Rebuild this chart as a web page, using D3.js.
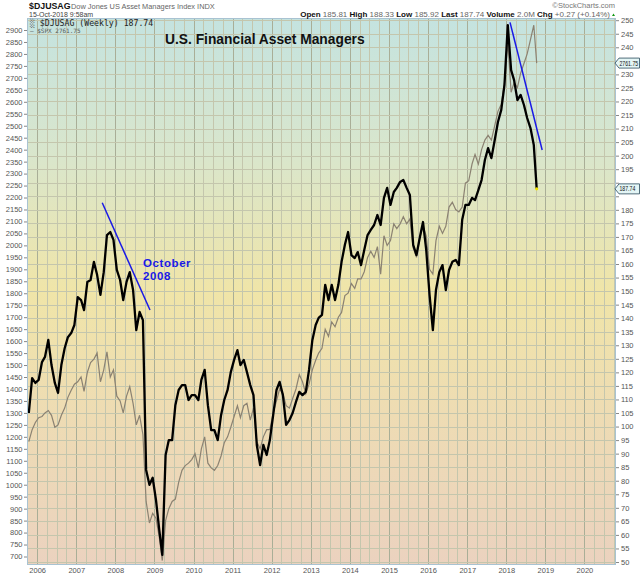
<!DOCTYPE html>
<html>
<head>
<meta charset="utf-8">
<script src="https://cdn.jsdelivr.net/npm/d3@7"></script>
<style>
  body { margin: 0; background: #ffffff; }
  svg { display: block; font-family: "Liberation Sans", Arial, sans-serif; }
</style>
</head>
<body>
<svg id="chart" width="640" height="576"></svg>
<script>
// ---------------- DATA ----------------
const startMonth = "2005-10";           // first monthly observation
const endLabelDate = "2018-10-12";      // last observation date
// $DJUSAG (right axis), monthly estimates read from the chart
const djusag = [
  105.0, 117.9, 116.1,
  117.2, 123.8, 125.7, 132.0, 122.7, 116.1, 112.4, 122.7, 128.9, 133.0, 134.5, 137.5,
  147.8, 146.7, 143.0, 153.4, 154.1, 160.8, 156.0, 148.6, 157.0, 170.7, 171.8, 168.9,
  157.8, 154.1, 146.7, 153.4, 157.0, 150.4, 135.6, 142.3, 139.3, 84.0, 78.5, 81.1,
  72.9, 61.8, 52.6, 89.5, 95.0, 95.0, 107.9, 113.5, 115.3, 115.3, 109.8, 111.6,
  111.6, 109.8, 117.2, 120.9, 107.9, 98.7, 98.7, 95.0, 104.2, 109.8, 113.5, 120.1,
  124.6, 128.2, 122.7, 124.6, 120.1, 115.3, 111.6, 93.2, 85.8, 93.2, 89.5, 95.0,
  104.2, 113.5, 116.5, 111.6, 100.6, 102.4, 105.0, 109.1, 112.8, 111.6, 112.8, 120.9,
  131.9, 137.5, 140.1, 141.2, 152.3, 146.7, 152.3, 146.7, 152.3, 160.8, 167.1, 171.8,
  163.3, 162.2, 164.4, 159.6, 165.2, 170.7, 172.6, 174.4, 178.1, 174.4, 184.4, 188.1,
  181.8, 186.6, 188.1, 190.3, 191.0, 188.1, 185.5, 167.1, 163.3, 169.6, 175.5, 165.2,
  148.6, 135.6, 150.4, 157.0, 159.6, 150.4, 157.8, 160.8, 161.5, 159.6, 176.3, 181.8,
  181.8, 184.4, 183.6, 187.3, 191.0, 198.4, 202.8, 199.1, 205.8, 212.4, 216.9, 226.1,
  248.2, 231.6, 227.9, 220.5, 222.4, 218.7, 213.9, 210.2, 203.9, 187.74
];
// $SPX overlay (left axis), monthly estimates
const spx = [
  1180, 1230, 1260,
  1280, 1285, 1300, 1310, 1290, 1240, 1250, 1290, 1320, 1365, 1395, 1420,
  1430, 1450, 1390, 1470, 1510, 1525, 1550, 1430, 1480, 1555, 1450, 1480,
  1370, 1350, 1300, 1370, 1410, 1340, 1250, 1290, 1210, 930, 840, 880,
  860, 780, 683, 850, 900, 930, 940, 1010, 1060, 1080, 1090, 1105,
  1130, 1070, 1150, 1200, 1090, 1070, 1060, 1080, 1120, 1175, 1200, 1240,
  1285, 1330, 1280, 1330, 1340, 1270, 1320, 1180, 1150, 1200, 1230, 1230,
  1300, 1350, 1400, 1380, 1330, 1320, 1360, 1400, 1460, 1430, 1380, 1420,
  1480, 1520, 1550, 1570, 1650, 1620, 1680, 1660, 1700, 1720, 1790, 1800,
  1840, 1820, 1860, 1860, 1890, 1950, 1975, 1950, 1995, 1880, 2040, 2000,
  2020, 2090, 2070, 2090, 2120, 2090, 2110, 1990, 1950, 2030, 2080, 2040,
  1900, 1880, 2020, 2080, 2050, 2080, 2160, 2180, 2150, 2140, 2160, 2260,
  2270, 2340, 2380, 2340, 2400, 2440, 2460, 2440, 2500, 2560, 2590, 2680,
  2850, 2640, 2680, 2660, 2720, 2760, 2800, 2860, 2920, 2761.75
];
const rightTicks = d3.range(50, 251, 5);
const leftTicks = d3.range(700, 2901, 50);
const yearTicks = d3.range(2006, 2021);
const trendLines = [
  [["2007-09-01", 182.6], ["2008-11-20", 143.0]],
  [["2018-02-05", 249.2], ["2018-12-02", 202.1]]
];
const annotation = { date: "2008-09-15", value: 159.0, lines: ["October", "2008"] };
const header = {
  symbol: "$DJUSAG", name: "Dow Jones US Asset Managers Index  INDX",
  stamp: "15-Oct-2018 9:58am",
  quote: [["Open", "185.81"], ["High", "188.33"], ["Low", "185.92"], ["Last", "187.74"],
          ["Volume", "2.0M"], ["Chg", "+0.27 (+0.14%)"]],
  title: "U.S. Financial Asset Managers"
};

// ---------------- SCALES ----------------
const parse = d3.timeParse("%Y-%m-%d");
const start = d3.timeParse("%Y-%m")(startMonth);
const dates = djusag.map((_, i) => {
  if (i === djusag.length - 1) return parse(endLabelDate);
  const d = d3.timeMonth.offset(start, i); d.setDate(15); return d;
});
const L = 27, R = 616, T = 18, B = 565;
const x = d3.scaleTime().domain([new Date(2005, 8, 28), new Date(2020, 9, 22)]).range([L, R]);
const yR = d3.scaleLinear().domain([50, 250]).range([562, 20.2]);
const yL = d3.scaleLinear().domain([700, 2900]).range([556.5, 30]);

const svg = d3.select("#chart");
const defs = svg.append("defs");
const grad = defs.append("linearGradient").attr("id", "bg").attr("x1", 0).attr("y1", 0).attr("x2", 0).attr("y2", 1);
[["0%", "#c4e3e0"], ["25%", "#d9e6cc"], ["50%", "#f0e5a8"], ["72%", "#eedcb3"], ["100%", "#ebd2bf"]]
  .forEach(([o, c]) => grad.append("stop").attr("offset", o).attr("stop-color", c));
defs.append("clipPath").attr("id", "clip").append("rect").attr("x", L).attr("y", T).attr("width", R - L).attr("height", B - T);

svg.append("rect").attr("x", L).attr("y", T).attr("width", R - L).attr("height", B - T).attr("fill", "url(#bg)");

// grid
const grid = svg.append("g").attr("clip-path", "url(#clip)");
const quarters = d3.timeMonth.every(3).range(new Date(2005, 9, 1), new Date(2020, 11, 1));
grid.selectAll("line.v").data(quarters).join("line")
  .attr("x1", d => Math.round(x(d)) + 0.5).attr("x2", d => Math.round(x(d)) + 0.5)
  .attr("y1", T).attr("y2", B)
  .attr("stroke", d => d.getMonth() === 0 ? "#a9ae97" : "#c4c6ad")
  .attr("stroke-width", 1);
grid.selectAll("line.h").data(rightTicks).join("line")
  .attr("x1", L).attr("x2", R)
  .attr("y1", d => Math.round(yR(d)) + 0.5).attr("y2", d => Math.round(yR(d)) + 0.5)
  .attr("stroke", "#c4c6ad").attr("stroke-width", 1);

// series
const plot = svg.append("g").attr("clip-path", "url(#clip)");
plot.append("path").datum(spx)
  .attr("fill", "none").attr("stroke", "#8b8272").attr("stroke-width", 1.2)
  .attr("d", d3.line().x((d, i) => x(dates[i])).y(d => yL(d)));
plot.append("path").datum(djusag)
  .attr("fill", "none").attr("stroke", "#000").attr("stroke-width", 2.3).attr("stroke-linejoin", "round")
  .attr("d", d3.line().x((d, i) => x(dates[i])).y(d => yR(d)));
plot.append("circle").attr("cx", x(dates[dates.length - 1])).attr("cy", yR(djusag[djusag.length - 1]))
  .attr("r", 1.6).attr("fill", "#f2e400");

// trend lines
plot.selectAll("line.trend").data(trendLines).join("line")
  .attr("x1", d => x(parse(d[0][0]))).attr("y1", d => yR(d[0][1]))
  .attr("x2", d => x(parse(d[1][0]))).attr("y2", d => yR(d[1][1]))
  .attr("stroke", "#1a1ae6").attr("stroke-width", 1.5);

// annotation
const ann = svg.append("text").attr("x", x(parse(annotation.date))).attr("y", yR(annotation.value))
  .attr("fill", "#1a1ae6").attr("font-weight", "bold").attr("font-size", 11.5).attr("letter-spacing", 0.6);
annotation.lines.forEach((t, i) => ann.append("tspan").attr("x", x(parse(annotation.date))).attr("dy", i ? 13.5 : 0).text(t));

// frame
svg.append("rect").attr("x", L + 0.5).attr("y", T + 0.5).attr("width", R - L - 1).attr("height", B - T - 1)
  .attr("fill", "none").attr("stroke", "#a9c3d2").attr("stroke-width", 1);

// value flags on right (positions from the last values)
const flags = [[yL(spx[spx.length - 1]), d3.format(".2f")(spx[spx.length - 1])],
               [yR(djusag[djusag.length - 1]), d3.format(".2f")(djusag[djusag.length - 1])]];

// axes
const axisStyle = g => {
  g.select(".domain").remove();
  g.selectAll(".tick line").attr("stroke", "#888");
  g.selectAll(".tick text").attr("fill", "#555").attr("font-size", 7.5).attr("font-family", "Liberation Sans, Arial, sans-serif");
};
svg.append("g").attr("transform", `translate(${L},0)`)
  .call(d3.axisLeft(yL).tickValues(leftTicks).tickSize(3).tickPadding(1.5).tickFormat(d3.format("d")))
  .call(axisStyle);
svg.append("g").attr("transform", `translate(${R},0)`)
  .call(d3.axisRight(yR).tickValues(rightTicks).tickSize(3).tickPadding(2).tickFormat(d3.format("d")))
  .call(axisStyle)
  .call(g => g.selectAll(".tick text").filter(d => flags.some(([fy]) => Math.abs(yR(d) - fy) < 8)).remove());
svg.append("g").attr("transform", `translate(0,${B})`)
  .call(d3.axisBottom(x).tickValues(yearTicks.map(yv => new Date(yv, 0, 1))).tickSize(0).tickPadding(2.5).tickFormat(d3.timeFormat("%Y")))
  .call(axisStyle);

flags.forEach(([fy, label]) => {
  svg.append("path")
    .attr("d", `M${R - 1},${fy} L${R + 3},${fy - 5} L${639.5},${fy - 5} L${639.5},${fy + 5} L${R + 3},${fy + 5} Z`)
    .attr("fill", "#e4f6f6").attr("stroke", "#2a4a5a").attr("stroke-width", 0.8);
  svg.append("g").attr("transform", `translate(${R + 3.5},${fy + 2.5}) scale(0.76,1)`)
    .append("text").attr("x", 0).attr("y", 0).attr("font-size", 6.8).attr("fill", "#111").text(label);
});

// header
svg.append("text").attr("x", 29).attr("y", 9).attr("font-size", 8.8).attr("font-weight", "bold").attr("fill", "#111").text(header.symbol);
svg.append("text").attr("x", 71).attr("y", 9).attr("font-size", 7.4).attr("fill", "#666").text(header.name);
svg.append("text").attr("x", 29).attr("y", 16.5).attr("font-size", 7).attr("fill", "#444").text(header.stamp);
svg.append("text").attr("x", 615).attr("y", 8).attr("font-size", 7.5).attr("fill", "#777").attr("text-anchor", "end").text("\u00A9StockCharts.com");
const q = svg.append("text").attr("x", 610).attr("y", 16.5).attr("font-size", 8).attr("text-anchor", "end").attr("fill", "#111");
header.quote.forEach(([k, v], i) => {
  q.append("tspan").attr("font-weight", "bold").text((i ? " " : "") + k + " ");
  q.append("tspan").attr("fill", "#666").text(v);
});
svg.append("path").attr("d", "M612,16 L615,16 L613.5,13.5 Z").attr("fill", "#119911");

// legend
const leg = svg.append("g").attr("font-family", "DejaVu Sans Mono, monospace");
leg.append("text").attr("x", 30).attr("y", 26).attr("font-size", 8.2).attr("fill", "#222").text("\u2591 $DJUSAG (Weekly) 187.74");
leg.append("text").attr("x", 30).attr("y", 32.5).attr("font-size", 6).attr("fill", "#555").text("\u2014 $SPX 2761.75");

// title
svg.append("text").attr("x", 165).attr("y", 44).attr("font-size", 13.8).attr("font-weight", "bold").attr("fill", "#111").text(header.title);
</script>
</body>
</html>
